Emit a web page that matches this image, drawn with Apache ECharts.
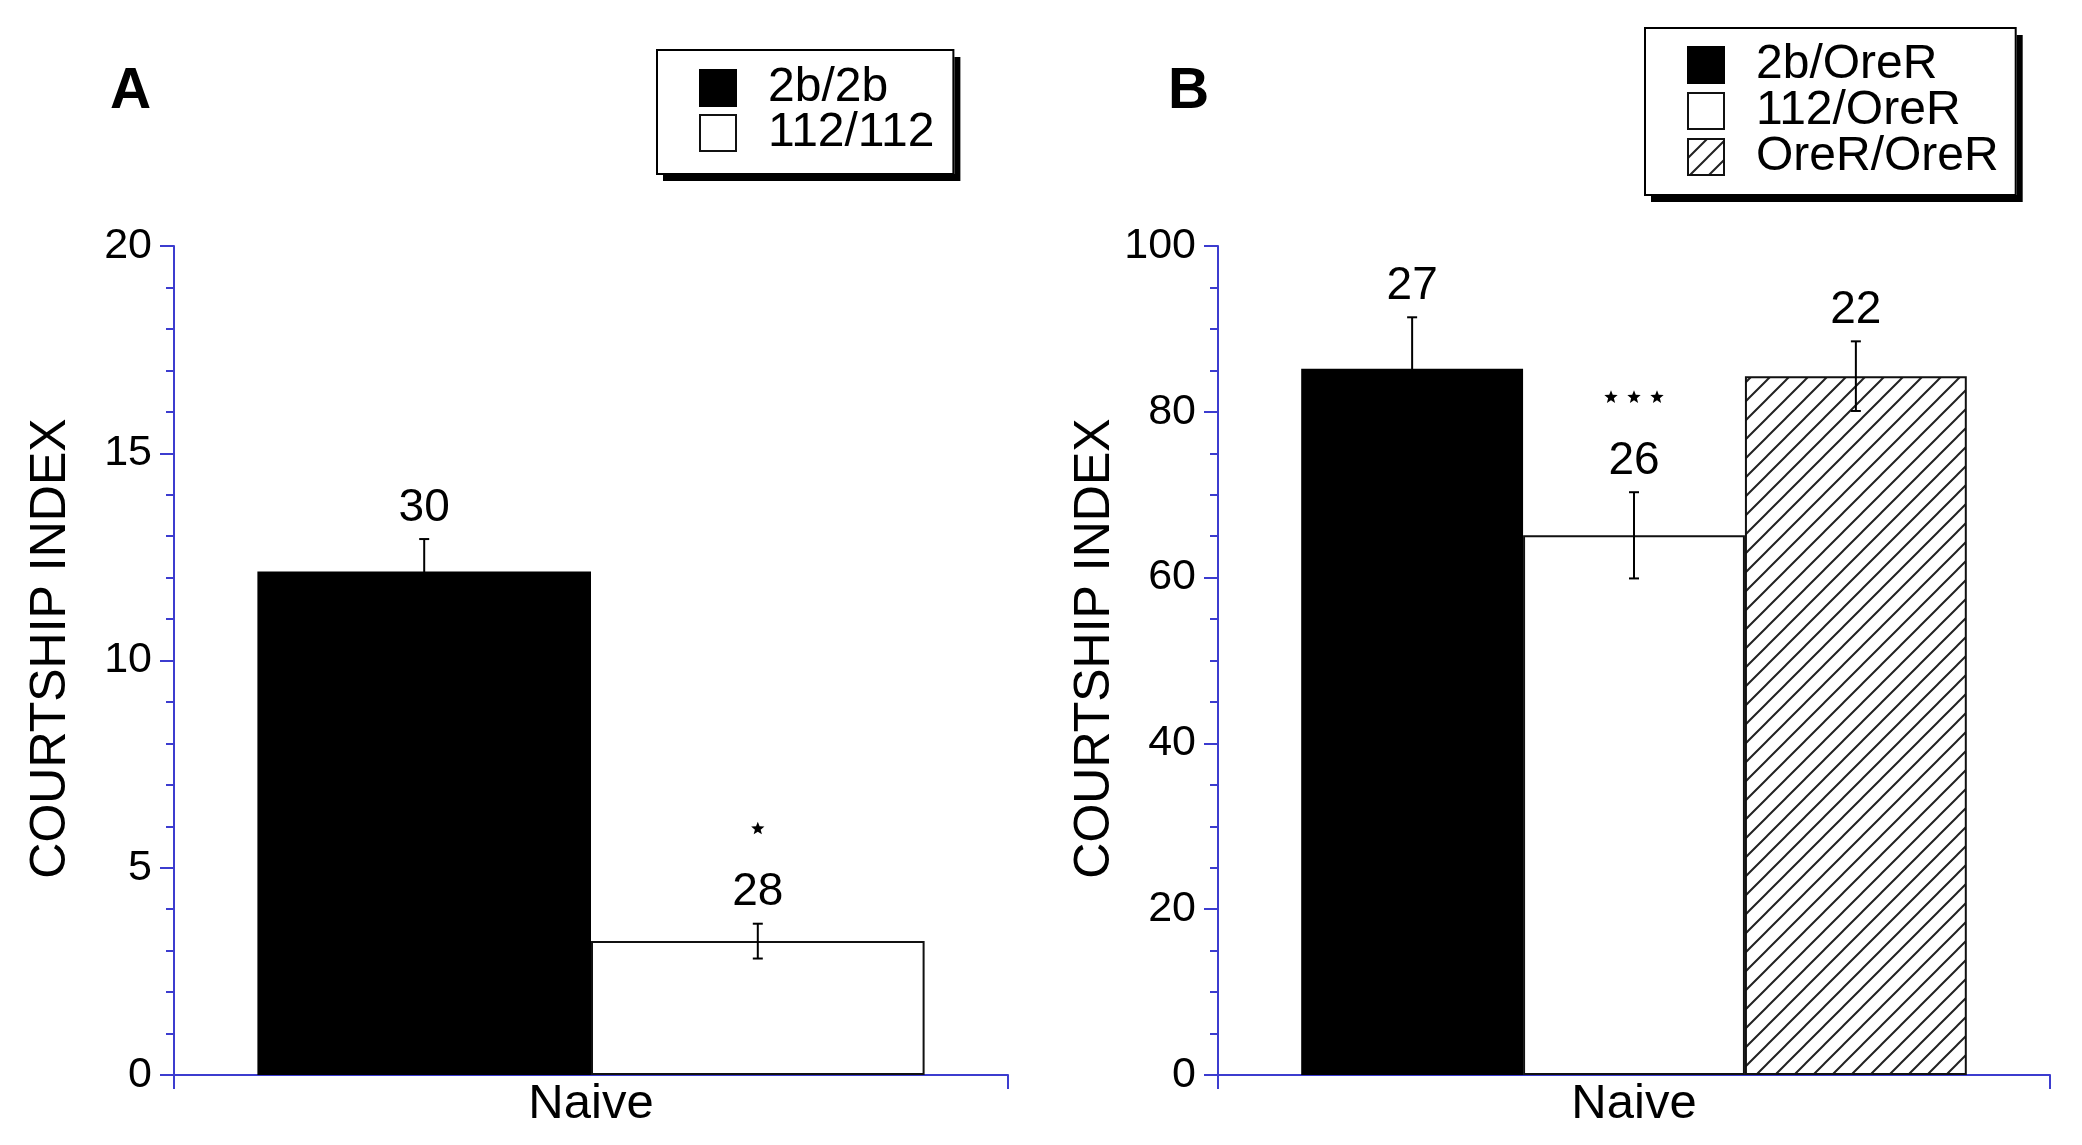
<!DOCTYPE html>
<html>
<head>
<meta charset="utf-8">
<script src="https://cdn.jsdelivr.net/npm/echarts@6/dist/echarts.min.js"></script>
<style>
html,body{margin:0;padding:0;background:#fff;}
#chart{width:2082px;height:1145px;}
</style>
</head>
<body>
<div id="chart"></div>
<script>
// ---------- data ----------
const categories = ['Naive'];

const genotypesA = ['2b/2b', '112/112'];
const meanA = [12.15, 3.23];
const semA = [0.78, 0.42];
const nA = [30, 28];
const starsA = [0, 1];
const yTicksA = [0, 5, 10, 15, 20];

const genotypesB = ['2b/OreR', '112/OreR', 'OreR/OreR'];
const meanB = [85.2, 65.1, 84.3];
const semB = [6.2, 5.2, 4.2];
const nB = [27, 26, 22];
const starsB = [0, 3, 0];
const yTicksB = [0, 20, 40, 60, 80, 100];

// ---------- styles ----------
const FONT = '"Liberation Sans", Arial, Helvetica, sans-serif';
const AXIS_BLUE = '#3c3ccf';

function hatchPattern() {
  const s = 19;
  const c = document.createElement('canvas');
  c.width = s; c.height = s;
  const ctx = c.getContext('2d');
  ctx.fillStyle = '#fff';
  ctx.fillRect(0, 0, s, s);
  ctx.strokeStyle = '#222';
  ctx.lineWidth = 2;
  ctx.beginPath();
  ctx.moveTo(0, s); ctx.lineTo(s, 0);
  ctx.moveTo(-2, 2); ctx.lineTo(2, -2);
  ctx.moveTo(s - 2, s + 2); ctx.lineTo(s + 2, s - 2);
  ctx.stroke();
  return { image: c, repeat: 'repeat' };
}

const fills = [
  { color: '#000', borderColor: '#000', borderWidth: 2 },
  { color: '#fff', borderColor: '#111', borderWidth: 2 },
  { color: hatchPattern(), borderColor: '#111', borderWidth: 2 }
];

function starPoints(cx, cy, R, r) {
  const pts = [];
  for (let k = 0; k < 10; k++) {
    const ang = -Math.PI / 2 + k * Math.PI / 5;
    const rad = (k % 2 === 0) ? R : r;
    pts.push([cx + rad * Math.cos(ang), cy + rad * Math.sin(ang)]);
  }
  return pts;
}

function yAxis(ticks, gridIndex, minorSplit) {
  return {
    type: 'value',
    gridIndex: gridIndex,
    min: ticks[0],
    max: ticks[ticks.length - 1],
    interval: ticks[1] - ticks[0],
    name: 'COURTSHIP INDEX',
    nameLocation: 'middle',
    nameGap: 98,
    nameRotate: 90,
    nameTextStyle: { fontFamily: FONT, fontSize: 50, color: '#000', padding: [0, 0, 0, 24] },
    axisLine: { show: true, lineStyle: { color: AXIS_BLUE, width: 2 } },
    axisTick: { show: true, length: 14, lineStyle: { color: AXIS_BLUE, width: 2 } },
    minorTick: { show: true, splitNumber: minorSplit, length: 8, lineStyle: { color: AXIS_BLUE, width: 2 } },
    splitLine: { show: false },
    axisLabel: { fontFamily: FONT, fontSize: 43, color: '#000', margin: 22, verticalAlign: 'middle', padding: [0, 0, 10, 0] }
  };
}

function xAxis(gridIndex) {
  return {
    type: 'category',
    gridIndex: gridIndex,
    data: categories,
    axisLine: { show: true, lineStyle: { color: AXIS_BLUE, width: 2 } },
    axisTick: { show: true, length: 14, lineStyle: { color: AXIS_BLUE, width: 2 } },
    axisLabel: { fontFamily: FONT, fontSize: 49, color: '#000', margin: 5 }
  };
}

function barSeries(names, means, gridIndex) {
  return names.map((nm, i) => ({
    name: nm,
    type: 'bar',
    xAxisIndex: gridIndex,
    yAxisIndex: gridIndex,
    barGap: '0%',
    barCategoryGap: '20%',
    data: [means[i]],
    itemStyle: fills[i],
    emphasis: { disabled: true },
    z: 2
  }));
}

function errorSeries(means, sems, ns, stars, gridIndex) {
  const count = means.length;
  const data = means.map((m, i) => [0, i, m, sems[i], ns[i], stars[i]]);
  return {
    type: 'custom',
    xAxisIndex: gridIndex,
    yAxisIndex: gridIndex,
    encode: { x: 0, y: 2 },
    data: data,
    z: 5,
    silent: true,
    renderItem: function (params, api) {
      const i = api.value(1);
      const m = api.value(2);
      const e = api.value(3);
      const n = api.value(4);
      const st = api.value(5);
      const center = api.coord([0, m])[0];
      const band = api.size([1, 0])[0];
      const barW = band * 0.8 / count;
      const x = center - band * 0.4 + barW * (i + 0.5);
      const yTop = api.coord([0, m + e])[1];
      const yBot = api.coord([0, m - e])[1];
      const cap = 5;
      const lineStyle = { stroke: '#000', lineWidth: 2 };
      const children = [
        { type: 'line', shape: { x1: x, y1: yTop, x2: x, y2: yBot }, style: lineStyle },
        { type: 'line', shape: { x1: x - cap, y1: yTop, x2: x + cap, y2: yTop }, style: lineStyle },
        { type: 'line', shape: { x1: x - cap, y1: yBot, x2: x + cap, y2: yBot }, style: lineStyle },
        { type: 'text', style: { text: String(n), x: x, y: yTop - 31, align: 'center', verticalAlign: 'middle',
            fontFamily: FONT, fontSize: 46, fill: '#000' } }
      ];
      for (let k = 0; k < st; k++) {
        children.push({ type: 'polygon',
          shape: { points: starPoints(x + (k - (st - 1) / 2) * 23, yTop - 95, 7, 3) },
          style: { fill: '#000' } });
      }
      return { type: 'group', children: children };
    }
  };
}

// legend body (white fill with solid drop shadow, icons and text)
function legendBody(names, left, top, padding, gap) {
  return {
    data: names,
    orient: 'vertical',
    left: left,
    top: top,
    padding: padding,
    itemWidth: 36,
    itemHeight: 36,
    itemGap: gap,
    icon: 'rect',
    backgroundColor: '#fff',
    borderWidth: 0,
    shadowColor: '#000',
    shadowBlur: 0,
    shadowOffsetX: 6,
    shadowOffsetY: 7,
    selectedMode: false,
    z: 4,
    textStyle: { fontFamily: FONT, fontSize: 48, color: '#000', padding: [0, 0, 0, 27] }
  };
}
// legend frame (same layout, only the black border)
function legendFrame(names, left, top, padding, gap) {
  const l = legendBody(names, left, top, padding, gap);
  l.backgroundColor = 'rgba(0,0,0,0)';
  l.shadowColor = 'rgba(0,0,0,0)';
  l.shadowOffsetX = 0;
  l.shadowOffsetY = 0;
  l.borderColor = '#000';
  l.borderWidth = 2;
  l.z = 5;
  l.itemStyle = { color: 'rgba(0,0,0,0)', borderColor: 'rgba(0,0,0,0)', borderWidth: 0, decal: 'none' };
  l.textStyle = Object.assign({}, l.textStyle, { color: 'rgba(0,0,0,0)' });
  return l;
}

const chart = echarts.init(document.getElementById('chart'), null, { renderer: 'canvas' });
chart.setOption({
  backgroundColor: '#fff',
  animation: false,
  graphic: [
    { type: 'text', left: 110, top: 64, style: { text: 'A', font: 'bold 57px ' + FONT, fill: '#000' } },
    { type: 'text', left: 1168, top: 64, style: { text: 'B', font: 'bold 57px ' + FONT, fill: '#000' } }
  ],
  legend: [
    legendBody(genotypesA, 657, 50, [14, 20, 17, 42], -3),
    legendFrame(genotypesA, 657, 50, [14, 20, 17, 42], -3),
    legendBody(genotypesB, 1645, 28, [13, 18, 14, 42], -2),
    legendFrame(genotypesB, 1645, 28, [13, 18, 14, 42], -2)
  ],
  grid: [
    { left: 174, right: 2082 - 1008, top: 246, bottom: 1145 - 1075, containLabel: false },
    { left: 1218, right: 2082 - 2050, top: 246, bottom: 1145 - 1075, containLabel: false }
  ],
  xAxis: [xAxis(0), xAxis(1)],
  yAxis: [yAxis(yTicksA, 0, 5), yAxis(yTicksB, 1, 4)],
  series: [].concat(
    barSeries(genotypesA, meanA, 0),
    barSeries(genotypesB, meanB, 1),
    [errorSeries(meanA, semA, nA, starsA, 0), errorSeries(meanB, semB, nB, starsB, 1)]
  )
});
</script>
</body>
</html>
